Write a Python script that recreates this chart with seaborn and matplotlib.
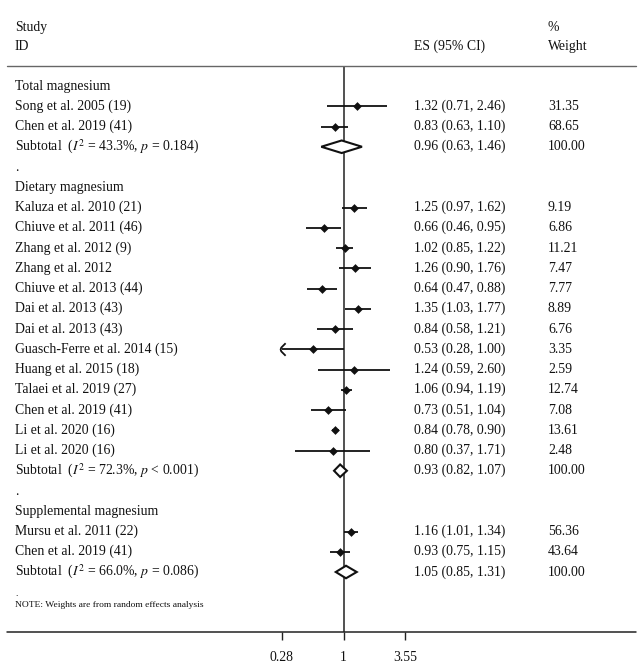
import numpy as np
import pandas as pd
import matplotlib
matplotlib.use("Agg")
import matplotlib.pyplot as plt
import seaborn as sns
from matplotlib import transforms
from matplotlib.lines import Line2D
from matplotlib.path import Path
from matplotlib.ticker import NullLocator, FixedLocator, FixedFormatter

# ---------------- data ----------------
labels = [
    "Total magnesium",
    "Song et al. 2005 (19)",
    "Chen et al. 2019 (41)",
    r"Subtotal  ($I^2$ = 43.3%, $p$ = 0.184)",
    ".",
    "Dietary magnesium",
    "Kaluza et al. 2010 (21)",
    "Chiuve et al. 2011 (46)",
    "Zhang et al. 2012 (9)",
    "Zhang et al. 2012",
    "Chiuve et al. 2013 (44)",
    "Dai et al. 2013 (43)",
    "Dai et al. 2013 (43)",
    "Guasch-Ferre et al. 2014 (15)",
    "Huang et al. 2015 (18)",
    "Talaei et al. 2019 (27)",
    "Chen et al. 2019 (41)",
    "Li et al. 2020 (16)",
    "Li et al. 2020 (16)",
    r"Subtotal  ($I^2$ = 72.3%, $p$ < 0.001)",
    ".",
    "Supplemental magnesium",
    "Mursu et al. 2011 (22)",
    "Chen et al. 2019 (41)",
    r"Subtotal  ($I^2$ = 66.0%, $p$ = 0.086)",
]
kinds = ["head", "study", "study", "sub", "blank",
         "head"] + ["study"] * 13 + ["sub", "blank",
         "head", "study", "study", "sub"]
es = [np.nan, 1.32, 0.83, 0.96, np.nan,
      np.nan, 1.25, 0.66, 1.02, 1.26, 0.64, 1.35, 0.84, 0.53, 1.24, 1.06, 0.73, 0.84, 0.80, 0.93, np.nan,
      np.nan, 1.16, 0.93, 1.05]
lo = [np.nan, 0.71, 0.63, 0.63, np.nan,
      np.nan, 0.97, 0.46, 0.85, 0.90, 0.47, 1.03, 0.58, 0.28, 0.59, 0.94, 0.51, 0.78, 0.37, 0.82, np.nan,
      np.nan, 1.01, 0.75, 0.85]
hi = [np.nan, 2.46, 1.10, 1.46, np.nan,
      np.nan, 1.62, 0.95, 1.22, 1.76, 0.88, 1.77, 1.21, 1.00, 2.60, 1.19, 1.04, 0.90, 1.71, 1.07, np.nan,
      np.nan, 1.34, 1.15, 1.31]
weights = [None, "31.35", "68.65", "100.00", None,
           None, "9.19", "6.86", "11.21", "7.47", "7.77", "8.89", "6.76", "3.35", "2.59", "12.74", "7.08",
           "13.61", "2.48", "100.00", None,
           None, "56.36", "43.64", "100.00"]
x_ticks = [0.28, 1, 3.55]
x_tick_labels = ["0.28", "1", "3.55"]
note = "NOTE: Weights are from random effects analysis"

df = pd.DataFrame({"label": labels, "kind": kinds, "es": es, "lo": lo, "hi": hi, "w": weights})
df["row"] = np.arange(len(df))

# ---------------- style ----------------
sns.set_theme(style="white")
plt.rcParams["font.family"] = ["Liberation Serif", "DejaVu Serif"]
plt.rcParams["mathtext.fontset"] = "stix"
FS = 9.9

W, H = 638, 671
ROW0, STEP = 86.0, 20.25
def rowpos(px):
    return (px - ROW0) / STEP

fig = plt.figure(figsize=(W / 100, H / 100), dpi=100)
ax = fig.add_axes([282 / W, 1 - 632 / H, (405 - 282) / W, (632 - 66) / H])
ax.set_xscale("log")
ax.set_xlim(0.28, 3.55)
ax.set_ylim(rowpos(632), rowpos(66))
for s in ax.spines.values():
    s.set_visible(False)
ax.set_facecolor("none")
ax.yaxis.set_visible(False)
ax.xaxis.set_minor_locator(NullLocator())
ax.xaxis.set_major_locator(FixedLocator(x_ticks))
ax.xaxis.set_major_formatter(FixedFormatter(x_tick_labels))
ax.tick_params(axis="x", direction="out", length=6, width=1, color="#222",
               pad=8, labelsize=FS, bottom=True, labelcolor="#111")

# null line
ax.axvline(1, color="#333", lw=1.2, zorder=1)

# study CIs and markers
st = df[df.kind == "study"]
xmin = ax.get_xlim()[0]
ax.hlines(st.row, np.maximum(st.lo, xmin), st.hi, color="#111", lw=1.3, zorder=2)
sns.scatterplot(data=st, x="es", y="row", marker="D", s=20, color="#111",
                edgecolor="#111", linewidth=0, ax=ax, zorder=3, legend=False)
clipped = st[st.lo <= xmin]
caret = Path([(0.5, 1.0), (-0.2, 0.3), (-0.3, 0.0), (-0.2, -0.3), (0.5, -1.0)])
ax.plot(clipped.lo, clipped.row, ls="none", marker=caret, ms=9, mfc="none",
        mec="#111", mew=1.3, clip_on=False, zorder=3)
ax.set_ylabel("")
ax.set_xlabel("")

# pooled diamonds
hh = 0.31
for _, r in df[df.kind == "sub"].iterrows():
    ax.fill([r.lo, r.es, r.hi, r.es], [r.row, r.row - hh, r.row, r.row + hh],
            facecolor="white", edgecolor="#111", lw=1.5, zorder=4, clip_on=False)

# text columns
tr = transforms.blended_transform_factory(fig.transFigure, ax.transData)
x_lab, x_es, x_w = 15 / W, 414 / W, 548 / W
for _, r in df.iterrows():
    ax.text(x_lab, r.row, r.label, transform=tr, ha="left", va="center",
            fontsize=FS, color="#111", clip_on=False)
    if r.kind in ("study", "sub"):
        ax.text(x_es, r.row, f"{r.es:.2f} ({r.lo:.2f}, {r.hi:.2f})", transform=tr,
                ha="left", va="center", fontsize=FS, color="#111")
        ax.text(x_w, r.row, r.w, transform=tr, ha="left", va="center",
                fontsize=FS, color="#111")

# header
ax.text(x_lab, rowpos(27), "Study", transform=tr, ha="left", va="center", fontsize=FS, color="#111")
ax.text(x_lab, rowpos(46), "ID", transform=tr, ha="left", va="center", fontsize=FS, color="#111")
ax.text(x_es, rowpos(46), "ES (95% CI)", transform=tr, ha="left", va="center", fontsize=FS, color="#111")
ax.text(x_w, rowpos(27), "%", transform=tr, ha="left", va="center", fontsize=FS, color="#111")
ax.text(x_w, rowpos(46), "Weight", transform=tr, ha="left", va="center", fontsize=FS, color="#111")

# note
ax.text(x_lab, rowpos(594), ".", transform=tr, ha="left", va="center", fontsize=6.8, color="#111")
ax.text(x_lab, rowpos(605), note, transform=tr, ha="left", va="center", fontsize=6.8, color="#111")

# horizontal rules
fig.add_artist(Line2D([7 / W, 636 / W], [1 - 66 / H] * 2, transform=fig.transFigure,
                      color="#666", lw=1.0))
fig.add_artist(Line2D([7 / W, 636 / W], [1 - 632 / H] * 2, transform=fig.transFigure,
                      color="#222", lw=1.1))

fig.savefig("out.png", dpi=100, facecolor="white")
